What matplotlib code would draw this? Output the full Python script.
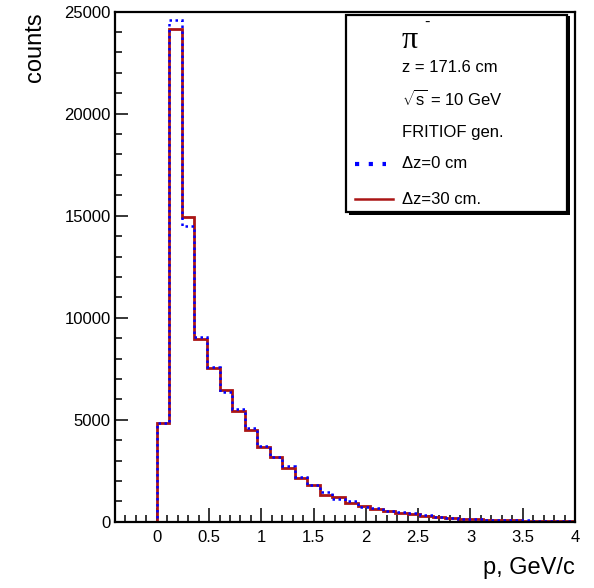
import matplotlib.pyplot as plt
import matplotlib.ticker as mticker
from matplotlib.patches import Rectangle
from matplotlib.lines import Line2D
import numpy as np

plt.rcParams['font.family'] = ['Liberation Sans', 'DejaVu Sans']
plt.rcParams['mathtext.fontset'] = 'custom'
plt.rcParams['mathtext.rm'] = 'Liberation Sans'

# momentum bins (GeV/c), width 0.12 starting at 0
bin_width = 0.12
p_start = 0.0

# counts per bin
counts_dz30 = [4850, 24150, 14950, 8950, 7530, 6470, 5440, 4510, 3640, 3150,
               2610, 2130, 1780, 1310, 1190, 900, 785, 620, 540, 425,
               375, 295, 245, 180, 150, 125, 105, 85, 70, 58,
               47, 38, 30, 24, 19]
counts_dz0 = [4850, 24600, 14500, 9070, 7570, 6340, 5520, 4590, 3720, 3150,
              2710, 2200, 1810, 1440, 1110, 995, 700, 670, 540, 470,
              415, 330, 210, 195, 140, 130, 100, 90, 68, 60,
              45, 40, 28, 25, 18]

legend_lines = ['z = 171.6 cm', r'$\sqrt{\mathrm{s}}$ = 10 GeV', 'FRITIOF gen.']
label_dz0 = 'Δz=0 cm'
label_dz30 = 'Δz=30 cm.'

W, H = 594, 588
fig = plt.figure(figsize=(W / 100, H / 100), dpi=100)
ax = fig.add_axes([115 / W, 1 - 521.7 / H, (575 - 115) / W, (521.7 - 11.7) / H])

# pad with empty bins on the left so the line runs along zero
n_pad = 4
edges = p_start - n_pad * bin_width + bin_width * np.arange(len(counts_dz30) + n_pad + 1)
red = np.concatenate([np.zeros(n_pad), counts_dz30])
blue = np.concatenate([np.zeros(n_pad), counts_dz0])

red_col = '#aa1515'
blue_col = '#0000ff'
ax.stairs(red, edges, color=red_col, lw=2.0, zorder=3)
ax.stairs(blue, edges, color=blue_col, lw=1.8, linestyle=(0, (1, 1.4)), zorder=4)

ax.set_xlim(-0.4, 4)
ax.set_ylim(0, 25000)
ax.xaxis.set_major_locator(mticker.MultipleLocator(0.5))
ax.xaxis.set_minor_locator(mticker.MultipleLocator(0.1))
ax.yaxis.set_major_locator(mticker.MultipleLocator(5000))
ax.yaxis.set_minor_locator(mticker.MultipleLocator(1000))
ax.xaxis.set_major_formatter(mticker.FuncFormatter(lambda v, p: f'{v:g}'))
ax.yaxis.set_major_formatter(mticker.FuncFormatter(lambda v, p: f'{v:.0f}'))

ax.tick_params(which='both', direction='in', top=False, right=False, width=1.1, color='black')
ax.tick_params(axis='y', which='major', length=9.5, labelsize=12, pad=3)
ax.tick_params(axis='y', which='minor', length=5)
ax.tick_params(axis='x', which='major', length=10, labelsize=12, pad=6)
ax.tick_params(axis='x', which='minor', length=5)
for s in ax.spines.values():
    s.set_linewidth(1.6)
    s.set_zorder(5)

fig.text(35 / W, 1 - 12 / H, 'counts', rotation=90, ha='center', va='top', fontsize=17)
fig.text(575 / W, 1 - 568 / H, 'p, GeV/c', ha='right', va='center', fontsize=17)

# legend box
fig.add_artist(Rectangle((349 / W, 1 - 215 / H), 221 / W, 199 / H, transform=fig.transFigure,
                         facecolor='black', edgecolor='black', lw=0, zorder=6))
fig.add_artist(Rectangle((346 / W, 1 - 212 / H), 221 / W, 197 / H, transform=fig.transFigure,
                         facecolor='white', edgecolor='black', lw=1.6, zorder=7))
tx = 402 / W
fig.text(tx, 1 - 41 / H, 'π', family='Liberation Serif', fontsize=23, ha='left', va='center', zorder=8)
fig.text(424 / W, 1 - 22 / H, '-', fontsize=12, ha='left', va='center', zorder=8)
for txt, yy in zip(legend_lines, [67, 99, 132]):
    fig.text(tx, 1 - yy / H, txt, fontsize=12, ha='left', va='center', zorder=8)
fig.text(tx, 1 - 164 / H, label_dz0, fontsize=12, ha='left', va='center', zorder=8)
fig.text(tx, 1 - 199 / H, label_dz30, fontsize=12, ha='left', va='center', zorder=8)
fig.add_artist(Line2D([355 / W, 386 / W], [1 - 164 / H] * 2, transform=fig.transFigure,
                      color=blue_col, lw=3, linestyle=(0, (1, 2.3)), zorder=8))
fig.add_artist(Line2D([355 / W, 393 / W], [1 - 199 / H] * 2, transform=fig.transFigure,
                      color=red_col, lw=1.8, zorder=8))

fig.savefig('out.png', dpi=100, facecolor='white')
